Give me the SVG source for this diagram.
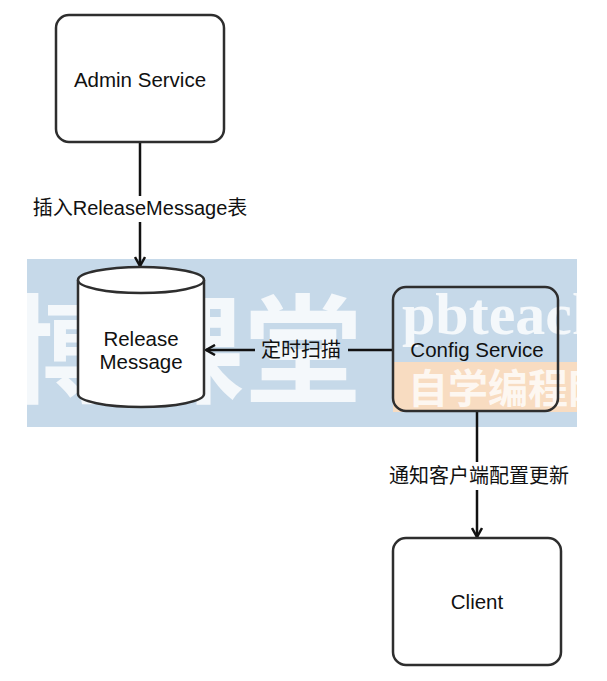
<svg xmlns="http://www.w3.org/2000/svg" width="607" height="681" viewBox="0 0 607 681">
<style>
.node{fill:#ffffff;stroke:#2e2e2e;stroke-width:2.5}
.cfg{fill:none;stroke:#2e2e2e;stroke-width:2.5}
.conn{stroke:#111;stroke-width:2.5;fill:none}
.t{font-family:"Liberation Sans",Arial,"Noto Sans CJK SC",sans-serif;font-size:20.5px;fill:#111;text-anchor:middle}
.l{font-family:"Liberation Sans",Arial,"Noto Sans CJK SC",sans-serif;font-size:20px;fill:#111;text-anchor:middle}
.wm{font-family:"Noto Sans CJK SC",sans-serif;font-weight:bold;fill:#ffffff;fill-opacity:0.8}
</style>
<defs>
<marker id="arr" markerWidth="12" markerHeight="12" refX="10" refY="6" orient="auto" markerUnits="userSpaceOnUse">
<path d="M1,1 L10,6 L1,11" fill="none" stroke="#111" stroke-width="2.5"/>
</marker>
<clipPath id="band"><rect x="27" y="259" width="550" height="168"/></clipPath>
</defs>
<g id="watermark">
<rect x="27" y="259" width="550" height="168" fill="#c6d9e9"/>
<rect x="393" y="362" width="184" height="50" fill="#f8dcc1"/>
<g clip-path="url(#band)">
<text class="wm" x="8" y="394" font-size="118">博课堂</text>
<text x="402" y="334" font-family="'Liberation Serif',serif" font-weight="bold" font-size="60" fill="#ffffff" fill-opacity="0.8">pbteach</text>
<text class="wm" x="408" y="403" font-size="40" font-weight="normal">自学编程网</text>
</g>
</g>
<g id="connectors">
<line class="conn" x1="140" y1="143" x2="140" y2="196"/>
<line class="conn" x1="140" y1="222" x2="140" y2="266" marker-end="url(#arr)"/>
<line class="conn" x1="393" y1="350" x2="348" y2="350"/>
<line class="conn" x1="255" y1="350" x2="206" y2="350" marker-end="url(#arr)"/>
<line class="conn" x1="477" y1="411" x2="477" y2="462"/>
<line class="conn" x1="477" y1="490" x2="477" y2="537" marker-end="url(#arr)"/>
<text class="l" x="140" y="215">插入ReleaseMessage表</text>
<text class="l" x="301" y="357">定时扫描</text>
<text class="l" x="479" y="483">通知客户端配置更新</text>
</g>
<g id="admin-service">
<rect class="node" x="56" y="15" width="168" height="127" rx="13"/>
<text class="t" x="140" y="87">Admin Service</text>
</g>
<g id="release-message">
<path class="node" d="M78,280 L78,394 A63,13 0 0 0 204,394 L204,280 A63,13 0 0 0 78,280 Z"/>
<path class="node" fill="none" d="M78,280 A63,13 0 0 0 204,280"/>
<text class="t" x="141" y="346">Release</text>
<text class="t" x="141" y="369">Message</text>
</g>
<g id="config-service">
<rect class="cfg" x="393" y="287" width="165" height="124" rx="13"/>
<text class="t" x="477" y="357">Config Service</text>
</g>
<g id="client">
<rect class="node" x="393" y="538" width="168" height="127" rx="13"/>
<text class="t" x="477" y="609">Client</text>
</g>
</svg>
